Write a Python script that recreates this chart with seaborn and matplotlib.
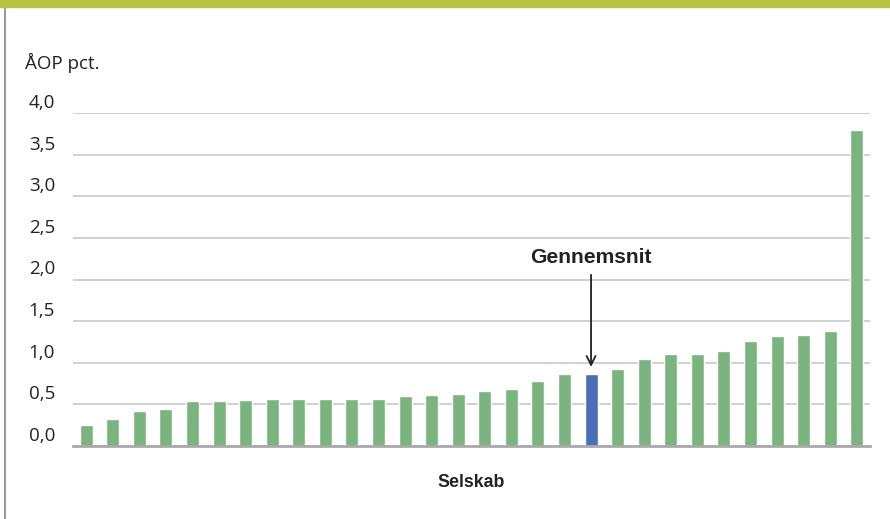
import matplotlib
matplotlib.use("Agg")
import matplotlib.pyplot as plt
import matplotlib.transforms as mtransforms
from matplotlib.patches import Rectangle
from matplotlib.lines import Line2D
import seaborn as sns
import pandas as pd

# ÅOP per selskab, sorteret stigende; gennemsnittet er markeret
selskab = [f"S{i}" for i in range(1, 31)]
aop = [0.25, 0.33, 0.42, 0.44, 0.54, 0.54, 0.55, 0.56, 0.56, 0.57,
       0.57, 0.57, 0.60, 0.61, 0.62, 0.66, 0.69, 0.78, 0.86, 0.86,
       0.93, 1.05, 1.10, 1.11, 1.14, 1.26, 1.32, 1.33, 1.38, 3.79]
gruppe = ["Selskab"] * 19 + ["Gennemsnit"] + ["Selskab"] * 10
yticks = [0.0, 0.5, 1.0, 1.5, 2.0, 2.5, 3.0, 3.5, 4.0]
ytick_labels = ["0,0", "0,5", "1,0", "1,5", "2,0", "2,5", "3,0", "3,5", "4,0"]

green = "#7bb47f"
blue = "#4a6fb5"
bold_font = ["Liberation Sans", "DejaVu Sans"]

df = pd.DataFrame({"selskab": selskab, "aop": aop, "gruppe": gruppe})

sns.set_style("white")
plt.rcParams["font.family"] = ["Open Sans", "DejaVu Sans"]

fig = plt.figure(figsize=(8.9, 5.19), dpi=100)
ax = fig.add_axes([73 / 890, 1 - 446 / 519, (870 - 73) / 890, (446 - 113) / 519])

sns.barplot(data=df, x="selskab", y="aop", hue="gruppe", dodge=False,
            palette={"Selskab": green, "Gennemsnit": blue},
            width=0.49, legend=False, ax=ax, zorder=3, saturation=1)

ax.set_xlim(-0.5, len(selskab) - 0.5)
ax.set_ylim(0, 4.0)
ax.set_yticks(yticks)
ax.set_yticklabels(ytick_labels)
ax.set_xticks([])
ax.set_xlabel("Selskab", fontsize=12.8, fontweight="bold", family=bold_font,
              color="#222222", labelpad=20)
ax.set_ylabel("")
ax.yaxis.grid(True, color="#c4c4c4", lw=1.1, zorder=0)
ax.tick_params(axis="y", length=0, pad=13, labelsize=13.5, labelcolor="#222222")
offset = mtransforms.ScaledTranslation(0, 0.12, fig.dpi_scale_trans)
for lab in ax.get_yticklabels():
    lab.set_transform(lab.get_transform() + offset)
for s in ["top", "right", "left"]:
    ax.spines[s].set_visible(False)
ax.spines["bottom"].set_color("#aaaaaa")
ax.spines["bottom"].set_linewidth(2)
ax.spines["bottom"].set_zorder(4)

avg_idx = gruppe.index("Gennemsnit")
ax.annotate("Gennemsnit", xy=(avg_idx, 0.95), xytext=(avg_idx, 2.26),
            ha="center", va="center", fontsize=15.2, fontweight="bold",
            family=bold_font, color="#222222",
            arrowprops=dict(arrowstyle="->", color="#222222", lw=1.3,
                            mutation_scale=16, shrinkA=3, shrinkB=0))

fig.text(25 / 890, 1 - 63 / 519, "ÅOP pct.", fontsize=13.5, color="#222222",
         ha="left", va="center")

# ramme: grønt bånd i toppen og grå linje i venstre side
fig.patches.append(Rectangle((0, 1 - 7 / 519), 1, 7 / 519, transform=fig.transFigure,
                             color="#b5c444", zorder=5))
fig.lines.append(Line2D([5 / 890, 5 / 890], [0, 1 - 7 / 519], transform=fig.transFigure,
                        color="#9a9a9a", lw=1.5))

fig.savefig("out.png", dpi=100)
